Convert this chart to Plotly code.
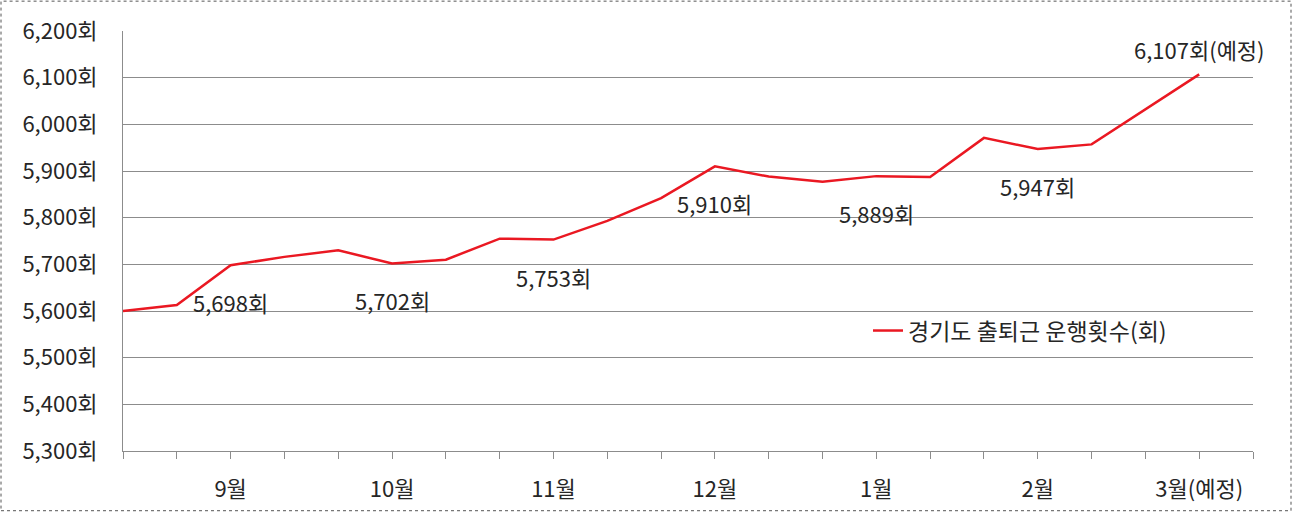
import plotly.graph_objects as go

# ---- data ----
categories = ["", "", "9월", "", "", "10월", "", "", "11월", "", "", "12월",
              "", "", "1월", "", "", "2월", "", "", "3월(예정)", ""]
values = [5600, 5613, 5698, 5716, 5730, 5702, 5710, 5755, 5753, 5793, 5842,
          5910, 5888, 5877, 5889, 5887, 5971, 5947, 5957, 6032, 6107]
label_idx = [2, 5, 8, 11, 14, 17]
label_text = ["5,698회", "5,702회", "5,753회", "5,910회", "5,889회", "5,947회"]
last_label = "6,107회(예정)"
series_name = "경기도 출퇴근 운행횟수(회)"
y_ticks = [5300, 5400, 5500, 5600, 5700, 5800, 5900, 6000, 6100, 6200]
y_ticktext = [f"{v:,}회" for v in y_ticks]

FONT = "Noto Sans CJK KR"
TXT = "#262626"
GRID = "#8c8c8c"
RED = "#ea1822"
FS = 22

W, H = 1293, 515
ML, MR, MT, MB = 123, 40, 31, 62

x_idx = list(range(len(values)))

fig = go.Figure()
fig.add_trace(go.Scatter(
    x=x_idx, y=values, mode="lines", name=series_name,
    line=dict(color=RED, width=2.5), showlegend=True, hoverinfo="skip",
))

annotations = []
for i, t in zip(label_idx, label_text):
    annotations.append(dict(x=i, y=values[i], text=t, showarrow=False,
                            xref="x", yref="y", yshift=-37,
                            font=dict(family=FONT, size=FS, color=TXT)))
last = len(values) - 1
annotations.append(dict(x=last, y=values[last], text=last_label, showarrow=False,
                        xref="x", yref="y", yshift=25,
                        font=dict(family=FONT, size=FS, color=TXT)))

pw = W - ML - MR
ph = H - MT - MB
shapes = [dict(type="rect", xref="paper", yref="paper",
               x0=(1 - ML) / pw, x1=(W - 2 - ML) / pw,
               y0=-(H - 2 - (H - MB)) / ph, y1=1 + (MT - 1) / ph,
               line=dict(color="#555555", width=1, dash="dot"),
               fillcolor="rgba(0,0,0,0)", layer="above")]

fig.update_layout(
    width=W, height=H,
    margin=dict(l=ML, r=MR, t=MT, b=MB),
    paper_bgcolor="white", plot_bgcolor="white",
    font=dict(family=FONT, size=FS, color=TXT),
    showlegend=True,
    legend=dict(x=(868 - ML) / pw, y=(H - MB - 332) / ph, xanchor="left", yanchor="middle",
                bgcolor="rgba(0,0,0,0)", font=dict(family=FONT, size=23, color=TXT)),
    xaxis=dict(
        range=[0, len(categories) - 1],
        tickmode="array", tickvals=list(range(len(categories))), ticktext=categories,
        ticks="outside", ticklen=7, tickcolor=GRID, tickwidth=1,
        showline=True, linecolor=GRID, linewidth=1,
        showgrid=False, zeroline=False, ticklabelstandoff=12,
        tickfont=dict(family=FONT, size=FS, color=TXT),
    ),
    yaxis=dict(
        range=[5300, 6200], tickmode="array", tickvals=y_ticks, ticktext=y_ticktext,
        showline=True, linecolor=GRID, linewidth=1,
        showgrid=True, gridcolor=GRID, gridwidth=1, zeroline=False,
        ticks="", ticklabelstandoff=20,
        tickfont=dict(family=FONT, size=FS, color=TXT),
    ),
    annotations=annotations,
    shapes=shapes,
)

fig.write_html("out.html", config={"displayModeBar": False},
               post_script="document.body.style.margin='0';")
